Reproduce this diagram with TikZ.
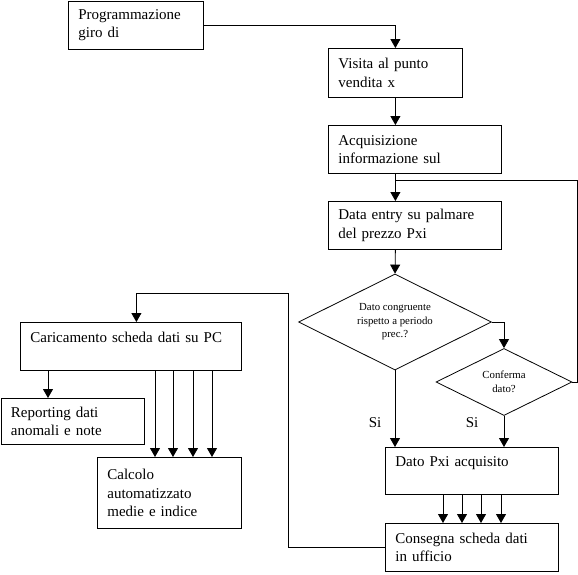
\documentclass[tikz,border=0pt]{standalone}
\usepackage{fontspec}
\setmainfont{Liberation Serif}
\usepackage{tikz}
\usetikzlibrary{arrows.meta,shapes.geometric}

\begin{document}
\begin{tikzpicture}[x=1pt,y=-1pt,line width=0.8pt,box/.style={draw,fill=white,anchor=north west,align=left,inner xsep=10pt,inner ysep=0pt,font=\fontsize{15}{18.5}\selectfont},choice/.style={draw,diamond,shape aspect=2,inner sep=0pt,align=center,font=\fontsize{10.8}{13.5}\selectfont},arrow/.style={-{Triangle[length=9pt,width=10pt]}}]
  \useasboundingbox (0,0) rectangle (578,574);
  \node[box,text width=115pt,minimum height=48pt] (prog) at (68,0.5) {Programmazione\\giro di};
  \node[box,text width=114pt,minimum height=49pt] (visita) at (328,48) {Visita al punto\\vendita x};
  \node[box,text width=153pt,minimum height=48pt] (acq) at (328,125) {Acquisizione\\informazione sul};
  \node[box,text width=153pt,minimum height=48pt] (data) at (328,201) {Data entry su palmare\\del prezzo Pxi};
  \node[choice,minimum width=193pt,minimum height=96pt] (cong) at (395,322) {Dato congruente\\rispetto a periodo\\prec.?};
  \node[choice,minimum width=136pt,minimum height=67pt] (conf) at (504,382) {Conferma\\dato?};
  \node[font=\fontsize{15}{18.5}\selectfont] (siA) at (375,423) {Si};
  \node[font=\fontsize{15}{18.5}\selectfont] (siB) at (472,423) {Si};
  \node[box,text width=153pt,minimum height=47pt] (dato) at (385,447) {Dato Pxi acquisito\\\mbox{}};
  \node[box,text width=153pt,minimum height=48pt] (cons) at (385,523) {Consegna scheda dati\\in ufficio};
  \node[box,text width=201pt,minimum height=48pt] (caric) at (20,322) {Caricamento scheda dati su PC\\\mbox{}};
  \node[box,text width=123pt,minimum height=46pt] (report) at (0.5,398) {Reporting dati\\anomali e note};
  \node[box,text width=124pt,minimum height=71pt] (calc) at (97,457) {Calcolo\\automatizzato\\medie e indice};
  \coordinate (back) at (577,180);
  \coordinate (turn) at (288,293);
  \coordinate (rep) at ([xshift=28pt]caric.south west);
  \draw[arrow] (prog) -| (visita);
  \draw[arrow] (visita) -- (visita |- acq.north);
  \draw[arrow] (visita |- acq.south) -- (visita |- data.north);
  \draw[arrow] (visita |- data.south) -- (cong.north);
  \draw (conf.east) -| (back) -- (visita |- back);
  \draw[arrow] (cong.east) -| (conf.north);
  \draw[arrow] (cong.south) -- (cong.south |- dato.north);
  \draw[arrow] (conf.south) -- (conf.south |- dato.north);
  \foreach \d in {58,77,96,116}
    \draw[arrow] ([xshift=\d pt]dato.south west) -- ([xshift=\d pt]cons.north west);
  \draw[arrow] (cons.west) -| (turn) -| ([xshift=5.5pt]caric.north);
  \draw[arrow] (rep) -- (rep |- report.north);
  \foreach \d [count=\i] in {58,76,96,115} {
    \coordinate (top\i) at ([xshift=\d pt]calc.north west);
    \draw[arrow] (top\i |- caric.south) -- (top\i);
  }
\end{tikzpicture}
\end{document}
